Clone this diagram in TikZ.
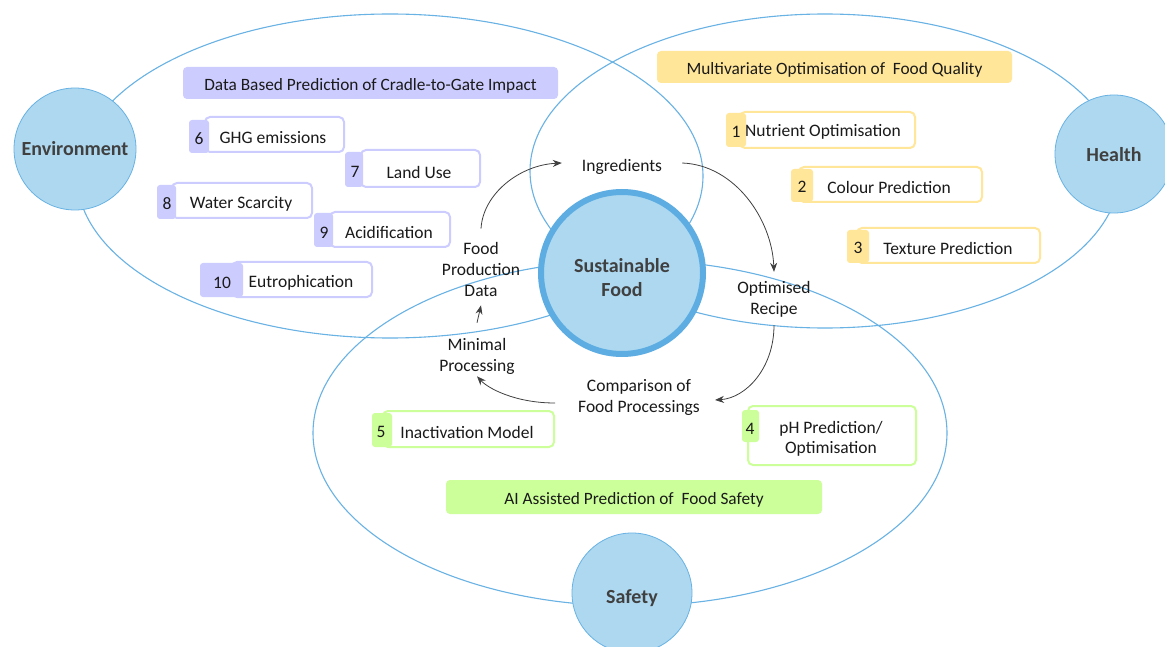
\documentclass[tikz,border=0pt]{standalone}
\usepackage{fontspec}
\setmainfont{Carlito}
\usetikzlibrary{arrows.meta}
\definecolor{ellblue}{RGB}{104,178,228}
\definecolor{circfill}{RGB}{173,216,240}
\definecolor{sfborder}{RGB}{93,173,226}
\definecolor{purp}{RGB}{204,204,255}
\definecolor{yell}{RGB}{255,230,153}
\definecolor{grn}{RGB}{204,255,153}
\definecolor{txt}{RGB}{26,26,26}
\definecolor{lbl}{RGB}{64,64,64}
\definecolor{arr}{RGB}{64,64,64}
\newcommand\rb[6]{\node[#2, minimum width={(#5)-(#3)}, minimum height={(#6)-(#4)}] (#1) at ({((#3)+(#5))/2},{((#4)+(#6))/2}) {};}
\begin{document}
\begin{tikzpicture}[x=1pt,y=-1pt,
  ell/.style={draw=ellblue, line width=1.1pt},
  smallc/.style={circle, draw=ellblue, fill=circfill, line width=0.8pt, inner sep=0pt},
  ctxt/.style={inner sep=0pt, text=lbl, align=center, font=\bfseries\fontsize{20}{24}\selectfont},
  head/.style={rounded corners=4pt, inner sep=0pt},
  headtxt/.style={inner sep=0pt, text=txt, font=\fontsize{17.3}{20}\selectfont, yshift=-2.5pt},
  tabbox/.style={rounded corners=3pt, inner sep=0pt},
  itembox/.style={rounded corners=5pt, fill=white, line width=2pt, inner sep=0pt},
  num/.style={inner sep=0pt, text=txt, font=\fontsize{17.5}{20}\selectfont, yshift=-2pt},
  itxt/.style={inner sep=0pt, text=txt, align=center, font=\fontsize{17.5}{20}\selectfont, yshift=-2pt},
  lab/.style={inner sep=1pt, text=txt, align=center, font=\fontsize{17.5}{21}\selectfont, yshift=-2pt},
  flow/.style={draw=arr, line width=0.8pt, -{Stealth[length=9pt,width=7pt]}}
]
\useasboundingbox (0,0) rectangle (1165,647);
\fill[white] (0,0) rectangle (1165,647);

% big ellipses
\draw[ell] (390,176) ellipse [x radius=313pt, y radius=162pt];
\draw[ell] (825,171) ellipse [x radius=295pt, y radius=157pt];
\draw[ell] (630,433) ellipse [x radius=317pt, y radius=173pt];

% outer circles
\node[smallc, minimum size=122pt] (env) at (75,149) {};
\node[ctxt] (envt) at (env.center) {Environment};
\node[smallc, minimum size=118pt] (health) at (1114,154) {};
\node[ctxt, yshift=-1pt] (healtht) at (health.center) {Health};
\node[smallc, minimum size=120pt] (safety) at (632,593) {};
\node[ctxt, yshift=-5pt] (safetyt) at (safety.center) {Safety};

% central circle
\node[circle, draw=sfborder, fill=circfill, line width=6pt, minimum size=162pt, inner sep=0pt] (sf) at (622,273) {};
\node[ctxt, yshift=-5pt] (sft) at (sf.center) {Sustainable\\Food};

% headers
\node[head, fill=purp, minimum width=375pt, minimum height=32pt] (hp) at (370.5,83) {};
\node[headtxt] (hpt) at (hp.center) {Data Based Prediction of Cradle-to-Gate Impact};
\node[head, fill=yell, minimum width=355pt, minimum height=32pt] (hy) at (834.5,67) {};
\node[headtxt] (hyt) at (hy.center) {Multivariate Optimisation of \ Food Quality};
\node[head, fill=grn, minimum width=376pt, minimum height=34pt] (hg) at (634,497) {};
\node[headtxt] (hgt) at (hg.center) {AI Assisted Prediction of \ Food Safety};

% purple items
\rb{b6}{itembox,draw=purp}{205}{117}{344}{152}
\rb{k6}{tabbox,fill=purp}{189}{120}{209}{153}
\node[num] (n6) at (199,137) {6};
\node[itxt] (t6) at (273,136) {GHG emissions};

\rb{b7}{itembox,draw=purp}{361}{150}{480}{187}
\rb{k7}{tabbox,fill=purp}{345}{152}{363}{187}
\node[num] (n7) at (355,170) {7};
\node[itxt] (t7) at (419,170) {Land Use};

\rb{b8}{itembox,draw=purp}{172}{183}{312}{218}
\rb{k8}{tabbox,fill=purp}{157}{185}{176}{219}
\node[num] (n8) at (167,202) {8};
\node[itxt] (t8) at (241,202) {Water Scarcity};

\rb{b9}{itembox,draw=purp}{330}{212}{450}{247}
\rb{k9}{tabbox,fill=purp}{314}{213}{333}{247}
\node[num] (n9) at (324,231) {9};
\node[itxt] (t9) at (389,230) {Acidification};

\rb{b10}{itembox,draw=purp}{232}{262}{372}{297}
\rb{k10}{tabbox,fill=purp}{200}{263}{243}{297}
\node[num] (n10) at (222,281) {10};
\node[itxt] (t10) at (301,281) {Eutrophication};

% yellow items
\rb{b1}{itembox,draw=yell}{740}{112}{915}{148}
\rb{k1}{tabbox,fill=yell}{726}{113}{746}{147}
\node[num] (n1) at (736,130) {1};
\node[itxt] (t1) at (823,130) {Nutrient Optimisation};

\rb{b2}{itembox,draw=yell}{799}{167}{982}{202}
\rb{k2}{tabbox,fill=yell}{791}{169}{813}{202}
\node[num] (n2) at (802,185) {2};
\node[itxt] (t2) at (889,185) {Colour Prediction};

\rb{b3}{itembox,draw=yell}{857}{228}{1040}{263}
\rb{k3}{tabbox,fill=yell}{847}{230}{869}{263}
\node[num] (n3) at (858,246) {3};
\node[itxt] (t3) at (948,246) {Texture Prediction};

% green items
\rb{b4}{itembox,draw=grn}{748}{406}{916}{465}
\rb{k4}{tabbox,fill=grn}{742}{410}{759}{442}
\node[num] (n4) at (750,427) {4};
\node[itxt] (t4) at (831,437) {pH Prediction/\\Optimisation};

\rb{b5}{itembox,draw=grn}{383}{411}{554}{447}
\rb{k5}{tabbox,fill=grn}{372}{413}{392}{447}
\node[num] (n5) at (381,430) {5};
\node[itxt] (t5) at (467,430) {Inactivation Model};

% process labels
\node[lab] (ingr) at (622,165) {Ingredients};
\node[lab] (orec) at (774,297) {Optimised\\Recipe};
\node[lab] (comp) at (639,395) {Comparison of\\Food Processings};
\node[lab] (minp) at (477,354) {Minimal\\Processing};
\node[lab] (fpd) at (481,267) {Food\\Production\\Data};

% flow arrows
\draw[flow] ([yshift=12pt]fpd.north) .. controls +(2,-35) and +(-42,2) .. ([xshift=-19pt,yshift=4pt]ingr.west);
\draw[flow] ([xshift=19pt,yshift=4pt]ingr.east) .. controls +(53,2) and +(-2,-52) .. ([yshift=8pt]orec.north);
\draw[flow] ([yshift=-7pt]orec.south) .. controls +(0,43) and +(31,-2) .. ([xshift=14pt,yshift=-3pt]comp.east);
\draw[flow] ([xshift=-22pt,yshift=-6pt]comp.west) .. controls +(-40,0) and +(11,12) .. ([yshift=-1pt]minp.south);
\draw[flow] ([yshift=14pt]minp.north) -- ([yshift=-8pt]fpd.south);
\end{tikzpicture}
\end{document}
